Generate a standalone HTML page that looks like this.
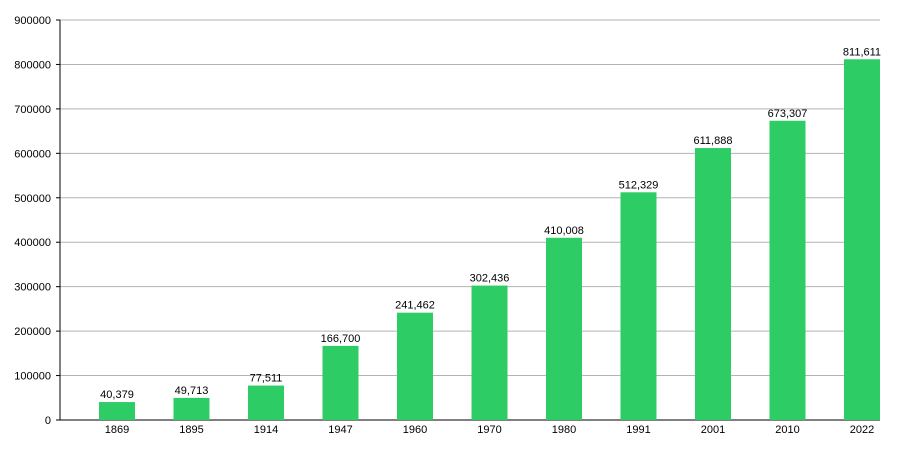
<!DOCTYPE html>
<html><head><meta charset="utf-8"><style>
html,body{margin:0;padding:0;background:#fff;}
svg{display:block;font-family:"Liberation Sans",sans-serif;}
</style></head><body>
<svg id="chart" width="900" height="450" viewBox="0 0 900 450"></svg>
<script>
const categories = ["1869","1895","1914","1947","1960","1970","1980","1991","2001","2010","2022"];
const values = [40379,49713,77511,166700,241462,302436,410008,512329,611888,673307,811611];
const valueLabels = ["40,379","49,713","77,511","166,700","241,462","302,436","410,008","512,329","611,888","673,307","811,611"];
const yTicks = [0,100000,200000,300000,400000,500000,600000,700000,800000,900000];

(function(){
const svg = document.getElementById('chart');
const NS = 'http://www.w3.org/2000/svg';
const plotL = 60, plotR = 880, plotT = 20, plotB = 420, yMax = 900000;
const firstCenter = 117, step = 74.5, barW = 36;
function sy(v){ return plotB - (v / yMax) * (plotB - plotT); }
function sx(i){ return firstCenter + i * step; }
function mk(tag, attrs){ const e = document.createElementNS(NS, tag); for (const k in attrs) e.setAttribute(k, attrs[k]); svg.appendChild(e); return e; }

yTicks.forEach(t => {
  const g = mk('line', {x1:plotL, x2:plotR, y1:sy(t), y2:sy(t), stroke: t===0 ? '#000' : '#b3b3b3', 'stroke-width':1});
  
  
  const tk = mk('line', {x1:plotL-4, x2:plotL, y1:sy(t), y2:sy(t), stroke:'#000'});
  
  
  const tx = mk('text', {x:plotL-9, y:sy(t)+4, 'text-anchor':'end', 'font-size':11, fill:'#000'});
  tx.textContent = String(t);
  
  
});
const ax = mk('line', {x1:plotL, x2:plotL, y1:plotT, y2:plotB, stroke:'#000'});



categories.forEach((c, i) => {
  const b = mk('rect', {x:sx(i)-barW/2, y:sy(values[i]), width:barW, height:plotB - sy(values[i]), fill:'#2ecc65'});
  
  
  const vl = mk('text', {x:sx(i), y:sy(values[i])-4, 'text-anchor':'middle', 'font-size':11, fill:'#000'});
  vl.textContent = valueLabels[i];
  
  
  const xl = mk('text', {x:sx(i), y:plotB+13, 'text-anchor':'middle', 'font-size':11, fill:'#000'});
  xl.textContent = c;
  
  
});
})();
</script>
</body></html>
